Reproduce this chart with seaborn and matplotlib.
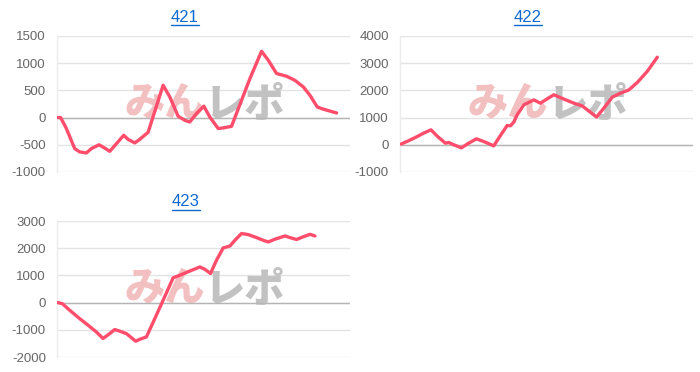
import matplotlib
matplotlib.use("Agg")
import matplotlib.pyplot as plt
import seaborn as sns
import pandas as pd

sns.set_style("white")
plt.rcParams['font.family'] = ['Liberation Sans', 'DejaVu Sans']

# ---- data ----
titles = ["421", "422", "423"]

games_421 = [0, 80, 250, 500, 650, 850, 1000, 1230, 1400, 1550, 1750, 1970, 2100, 2300,
             2450, 2700, 3150, 3350, 3600, 3800, 3950, 4150, 4370, 4550, 4800, 4950, 5200,
             5750, 6100, 6300, 6550, 6850, 7100, 7350, 7550, 7770, 7950, 8350]
diff_421 = [0, 0, -200, -570, -630, -650, -570, -500, -560, -620, -480, -325, -400, -465,
            -400, -270, 595, 380, 25, -50, -80, 75, 210, 10, -200, -190, -160,
            715, 1220, 1055, 810, 760, 685, 565, 410, 195, 155, 85]

games_422 = [0, 230, 480, 680, 900, 1100, 1330, 1430, 1580, 1810, 2030, 2260, 2480, 2780,
             2960, 3180, 3280, 3380, 3480, 3680, 3980, 4180, 4330, 4580, 4880, 5180, 5430,
             5860, 6080, 6330, 6580, 6830, 7080, 7380, 7680]
diff_422 = [25, 150, 300, 430, 550, 300, 60, 85, 0, -110, 60, 220, 120, -40,
            305, 710, 700, 835, 1100, 1470, 1650, 1530, 1650, 1840, 1680, 1530, 1430,
            1020, 1350, 1750, 1900, 2020, 2290, 2700, 3220]

games_423 = [0, 130, 350, 650, 900, 1150, 1350, 1550, 1700, 1850, 2050, 2330, 2450, 2650,
             2900, 3150, 3450, 3700, 3950, 4250, 4400, 4570, 4750, 4950, 5150, 5300, 5500,
             5700, 5950, 6150, 6300, 6500, 6800, 6950, 7150, 7350, 7550, 7700]
diff_423 = [0, -40, -280, -590, -830, -1080, -1320, -1140, -990, -1050, -1140, -1420, -1350, -1260,
            -590, 85, 910, 1030, 1160, 1310, 1225, 1070, 1560, 2010, 2080, 2290, 2540,
            2500, 2390, 2290, 2230, 2330, 2450, 2390, 2320, 2420, 2510, 2450]

yticks_421 = [-1000, -500, 0, 500, 1000, 1500]
yticks_422 = [-1000, 0, 1000, 2000, 3000, 4000]
yticks_423 = [-2000, -1000, 0, 1000, 2000, 3000]

watermark_a = "みん"
watermark_b = "レポ"

series = [
    (games_421, diff_421, yticks_421),
    (games_422, diff_422, yticks_422),
    (games_423, diff_423, yticks_423),
]

# ---- layout ----
W, H = 700, 372
fig = plt.figure(figsize=(7.0, 3.72), dpi=100)
boxes = [(57, 36, 350, 172), (400, 36, 693, 172), (57, 221, 350, 357)]
title_x = [185, 528, 186]
title_y = [17, 17, 202]

line_color = "#ff4d6b"
grid_color = "#e3e3e3"

for i, ((gx, gy, ticks), (l, t, r, b)) in enumerate(zip(series, boxes)):
    ax = fig.add_axes([l / W, 1 - b / H, (r - l) / W, (b - t) / H])
    df = pd.DataFrame({"games": gx, "diff": gy})
    # watermark
    ax.text(0.505, 0.50, watermark_a, transform=ax.transAxes, ha="right", va="center",
            fontsize=29, fontweight="heavy", color="#f2c0c0",
            family=["Noto Sans CJK JP", "DejaVu Sans"], zorder=1)
    ax.text(0.505, 0.50, watermark_b, transform=ax.transAxes, ha="left", va="center",
            fontsize=29, fontweight="heavy", color="#c2c2c2",
            family=["Noto Sans CJK JP", "DejaVu Sans"], zorder=1)
    sns.lineplot(data=df, x="games", y="diff", ax=ax, color=line_color, linewidth=2.4,
                 zorder=3)
    ax.set_xlim(-30, 8750)
    ax.set_ylim(ticks[0], ticks[-1])
    ax.set_yticks(ticks)
    ax.set_yticklabels([str(v) for v in ticks])
    ax.set_xticks([])
    ax.set_xlabel("")
    ax.set_ylabel("")
    ax.grid(axis="y", color=grid_color, linewidth=1.0, zorder=0)
    ax.axhline(0, color="#b5b5b5", linewidth=1.0, zorder=2)
    ax.tick_params(axis="y", length=7, width=1.0, color=grid_color, labelsize=9.5,
                   labelcolor="#666666", pad=1)
    for side in ["top", "right", "bottom"]:
        ax.spines[side].set_visible(False)
    ax.spines["left"].set_color("#ececec")
    ax.spines["left"].set_linewidth(1.0)
    ax.set_axisbelow(True)
    fig.text(title_x[i] / W, 1 - title_y[i] / H, titles[i], ha="center", va="center",
             fontsize=12, color="#0f6ad0", family=["Liberation Sans", "DejaVu Sans"])
    # underline
    fig.add_artist(plt.Line2D([(title_x[i] - 14) / W, (title_x[i] + 14) / W],
                              [1 - (title_y[i] + 8) / H] * 2, color="#0f6ad0", linewidth=1.0))

fig.savefig("out.png", dpi=100)
